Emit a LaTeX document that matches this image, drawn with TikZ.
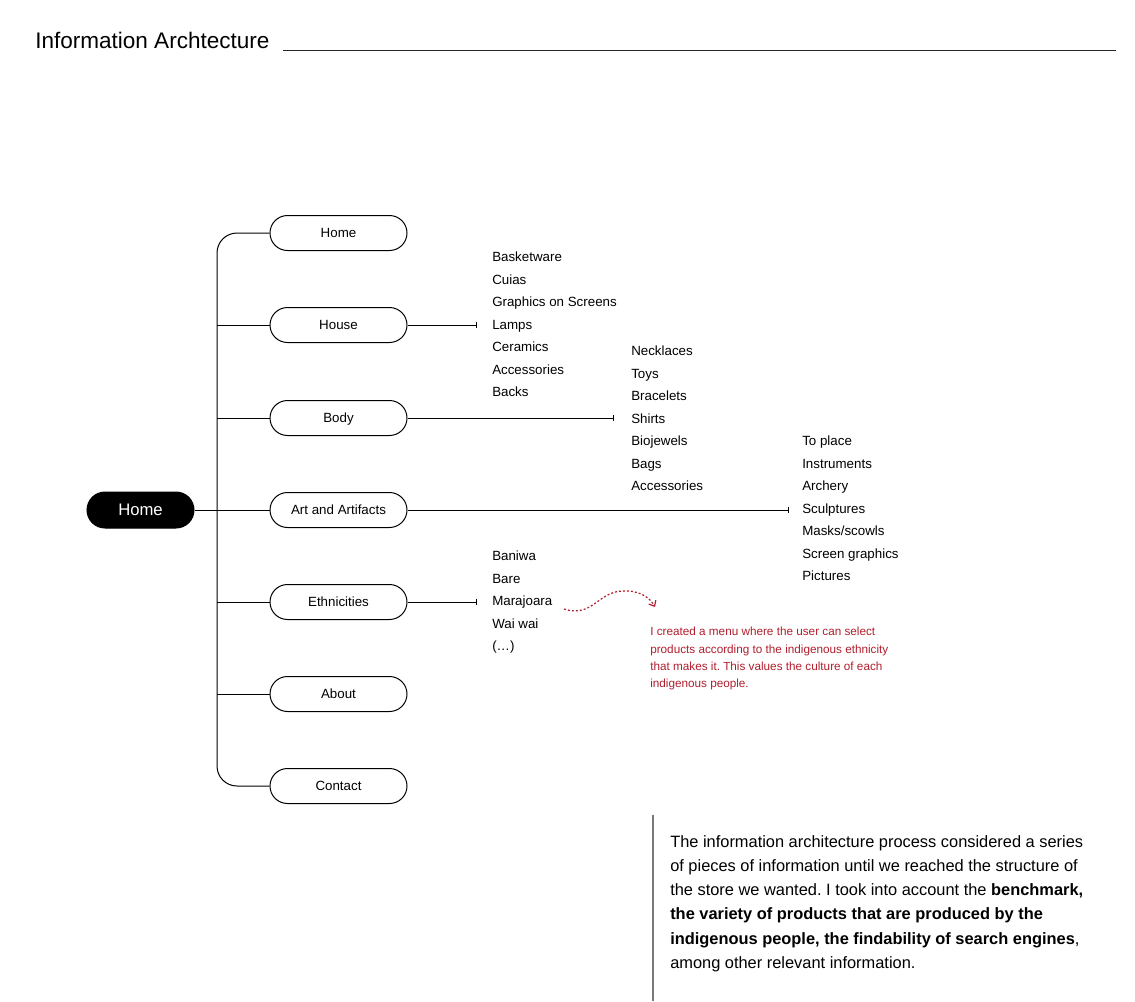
\documentclass[tikz,border=0pt]{standalone}
\usepackage{fontspec}
\setmainfont{Liberation Sans}
\usetikzlibrary{shapes.misc}
\usetikzlibrary{arrows.meta}
\definecolor{notered}{RGB}{176,30,45}
\definecolor{rulegray}{RGB}{120,120,120}
\frenchspacing

\tikzset{
    menubox/.style={draw, line width=0.75pt, rounded rectangle, minimum width=102.75pt, minimum height=26.25pt, inner sep=0pt, text height=9.4pt, text depth=2.2pt, font=\fontsize{10}{12}\selectfont},
    rootbox/.style={menubox, fill=black, text=white, minimum width=80.25pt, minimum height=27pt, text height=10.5pt, text depth=2.6pt, font=\fontsize{12.5}{15}\selectfont},
    listitem/.style={anchor=west, inner sep=0pt, text height=7.2pt, text depth=2.2pt, font=\fontsize{10}{12}\selectfont},
    link/.style={line width=0.75pt, -{Bar[width=5pt]}},
}

\begin{document}
\begin{tikzpicture}[x=0.75pt,y=0.75pt,yscale=-1,xscale=1]

    \useasboundingbox (0,0) rectangle (1135,1001);

    %Title
    \node[anchor=west, inner sep=0pt, font=\fontsize{16.9}{20}\selectfont] (title) at (35,40) {Information Archtecture};
    %Straight Lines: title rule
    \draw [line width=0.75pt, black!85] (283,50) -- (1116,50) ;

    %Shape: Root node
    \node[rootbox] (root) at (140.5,510) {Home};

    %Shape: Menu nodes
    \node[menubox] (home) at (338.5,233) {Home};
    \node[menubox] (house) at (338.5,325) {House};
    \node[menubox] (body) at (338.5,418) {Body};
    \node[menubox] (art) at (338.5,510) {Art and Artifacts};
    \node[menubox] (eth) at (338.5,602) {Ethnicities};
    \node[menubox] (about) at (338.5,694) {About};
    \node[menubox] (contact) at (338.5,786) {Contact};

    %Straight Lines: tree
    \coordinate (spine) at (217,510);
    \draw [line width=0.75pt, rounded corners=15pt] (home.west) -| (spine) |- (contact.west) ;
    \draw [line width=0.75pt] (root.east) -- (art.west) ;
    \foreach \n in {house,body,eth,about}
        \draw [line width=0.75pt] (spine |- \n.west) -- (\n.west) ;

    %Lists
    \foreach \t [count=\i] in {Basketware,Cuias,Graphics on Screens,Lamps,Ceramics,Accessories,Backs}
        \node[listitem] (house\i) at (492,{258.5+22.5*(\i-1)}) {\t};
    \foreach \t [count=\i] in {Necklaces,Toys,Bracelets,Shirts,Biojewels,Bags,Accessories}
        \node[listitem] (body\i) at (631,{352.5+22.5*(\i-1)}) {\t};
    \foreach \t [count=\i] in {To place,Instruments,Archery,Sculptures,Masks/scowls,Screen graphics,Pictures}
        \node[listitem] (art\i) at (802,{442.5+22.5*(\i-1)}) {\t};
    \foreach \t [count=\i] in {Baniwa,Bare,Marajoara,Wai wai,(…)}
        \node[listitem] (eth\i) at (492,{557.5+22.5*(\i-1)}) {\t};

    %Straight Lines: links to lists
    \coordinate (houseend) at (477,325);
    \coordinate (bodyend) at (614,418);
    \coordinate (artend) at (789,510);
    \coordinate (ethend) at (477,602);
    \draw [link] (house.east) -- (houseend) ;
    \draw [link] (body.east) -- (bodyend) ;
    \draw [link] (art.east) -- (artend) ;
    \draw [link] (eth.east) -- (ethend) ;

    %Curve: note pointer
    \coordinate (notestart) at (564,609);
    \coordinate (noteend) at (655,607);
    \draw [notered, line width=0.9pt, dash pattern=on 1.5pt off 1.5pt, -{Straight Barb[length=3.5pt,width=6pt]}] (notestart) .. controls (592,618) and (598,592) .. (622,591) .. controls (640,590) and (650,598) .. (noteend) ;

    %Note text
    \node[anchor=north west, inner sep=0pt, align=left, text=notered, font=\fontsize{8.8}{13}\selectfont] (note) at (650,627) {I created a menu where the user can select\\products according to the indigenous ethnicity\\that makes it. This values the culture of each\\indigenous people.};

    %Straight Lines: gray bar
    \draw [rulegray, line width=1.5pt] (653,815) -- (653,1001) ;

    %Summary text
    \node[anchor=north west, inner sep=0pt, align=left, font=\fontsize{12.3}{18.2}\selectfont] (summary) at (670,835) {The information architecture process considered a series\\of pieces of information until we reached the structure of\\the store we wanted. I took into account the \textbf{benchmark,}\\\textbf{the variety of products that are produced by the}\\\textbf{indigenous people, the findability of search engines},\\among other relevant information.};

\end{tikzpicture}
\end{document}
